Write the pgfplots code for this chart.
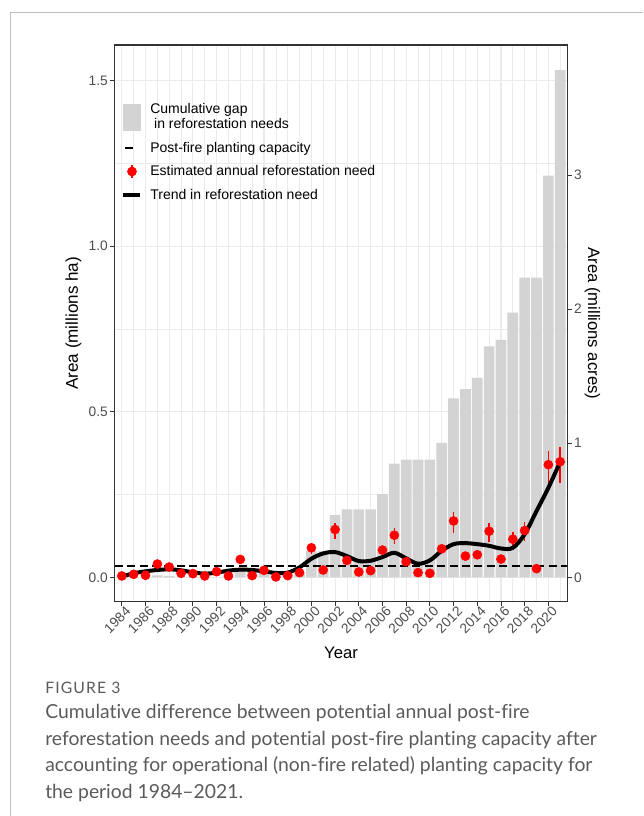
\documentclass[border=0pt]{standalone}
\usepackage{fontspec}
\setmainfont{Liberation Sans}
\newfontfamily\capfont{Lato}[Ligatures={NoCommon,NoContextual}]
\newfontfamily\capfontsp{Lato}[LetterSpace=7]
\usepackage{pgfplots}
\pgfplotsset{compat=1.18}
\definecolor{barcol}{HTML}{D3D3D3}
\definecolor{gridcol}{HTML}{EBEBEB}
\definecolor{axcol}{HTML}{333333}
\definecolor{tickcol}{HTML}{4D4D4D}
\definecolor{capcol}{HTML}{5A5A5A}
\definecolor{framecol}{HTML}{BDBDBD}
\definecolor{ptred}{HTML}{FF0000}
\begin{document}
\begin{tikzpicture}[x=0.75pt,y=0.75pt]
\path[use as bounding box] (0,0) rectangle (643,816);
\draw[framecol, line width=1.1pt] (10.5,0) -- (10.5,803.5) -- (643,803.5);

\begin{axis}[
  at={(86.03pt,160.73pt)}, anchor=south west,
  width=339.45pt, height=417.5pt, scale only axis,
  xmin=1983.4, xmax=2021.6, ymin=-0.0737, ymax=1.607,
  /pgf/number format/assume math mode=true,
  axis line style={axcol, line width=0.8pt},
  xtick={1984,1986,...,2020}, minor xtick={1985,1987,...,2021},
  ytick={0,0.5,1,1.5}, minor ytick={0.25,0.75,1.25},
  yticklabels={0.0,0.5,1.0,1.5},
  grid=both,
  major grid style={gridcol, line width=0.8pt},
  minor grid style={gridcol, line width=0.5pt},
  tick align=outside, major tick length=3.5pt, minor tick length=0pt,
  tick pos=left,
  every tick/.style={axcol, line width=0.7pt},
  xticklabel style={rotate=45, anchor=north east, font=\fontsize{10.3}{12}\selectfont, color=tickcol, /pgf/number format/1000 sep={}, inner sep=1pt, xshift=3pt},
  yticklabel style={font=\fontsize{10.3}{12}\selectfont, color=tickcol, inner sep=1.5pt},
  xlabel={Year},
  xlabel style={font=\fontsize{12.5}{14}\selectfont, at={(axis description cs:0.5,-0.0927)}, anchor=center},
  ylabel={Area (millions ha)},
  ylabel style={font=\fontsize{12.8}{14}\selectfont, at={(axis description cs:-0.091,0.5)}, anchor=center},
  legend cell align=left,
  legend style={at={(rel axis cs:0.014,0.898)}, anchor=north west, draw=none, fill=none, inner sep=0pt,
    font=\fontsize{10.5}{11.25}\selectfont, row sep=6.2pt,
    nodes={inner sep=1pt},
    cells={anchor=west, align=left},
    /tikz/every odd column/.append style={column sep=5pt}},
]
% cumulative gap bars
\addplot[ybar, bar width=0.9, bar shift=0pt, fill=barcol, draw=none, forget plot] coordinates {
(1984,0) (1985,0) (1986,0) (1987,0.006) (1988,0.004) (1989,0) (1990,0) (1991,0)
(1992,0) (1993,0) (1994,0.020) (1995,0.020) (1996,0.020) (1997,0.015) (1998,0.015)
(1999,0.013) (2000,0.080) (2001,0.078) (2002,0.188) (2003,0.205) (2004,0.205)
(2005,0.205) (2006,0.251) (2007,0.343) (2008,0.355) (2009,0.355) (2010,0.355)
(2011,0.406) (2012,0.540) (2013,0.568) (2014,0.602) (2015,0.697) (2016,0.717)
(2017,0.799) (2018,0.905) (2019,0.905) (2020,1.213) (2021,1.531)};
% post-fire planting capacity
\addplot[black, line width=1.7pt, dash pattern=on 6pt off 3.3pt, forget plot] coordinates {(1983.4,0.035) (2021.6,0.035)};
% estimated annual need
\addplot[only marks, mark=*, mark size=3.4pt, color=ptred, mark options={draw=none, fill=ptred}, forget plot,
  error bars/.cd, y dir=both, y explicit, error mark=none, error bar style={ptred, line width=1.2pt}] coordinates {
(1984,0.004) +- (0,0.002)
(1985,0.009) +- (0,0.002)
(1986,0.006) +- (0,0.002)
(1987,0.040) +- (0,0.006)
(1988,0.031) +- (0,0.004)
(1989,0.012) +- (0,0.002)
(1990,0.011) +- (0,0.002)
(1991,0.004) +- (0,0.002)
(1992,0.017) +- (0,0.003)
(1993,0.004) +- (0,0.002)
(1994,0.054) +- (0,0.008)
(1995,0.005) +- (0,0.002)
(1996,0.021) +- (0,0.003)
(1997,0.001) +- (0,0.001)
(1998,0.005) +- (0,0.002)
(1999,0.014) +- (0,0.003)
(2000,0.089) += (0,0.016) -= (0,0.019)
(2001,0.022) +- (0,0.004)
(2002,0.144) += (0,0.019) -= (0,0.029)
(2003,0.051) +- (0,0.006)
(2004,0.016) +- (0,0.003)
(2005,0.020) +- (0,0.003)
(2006,0.082) += (0,0.014) -= (0,0.012)
(2007,0.127) += (0,0.021) -= (0,0.026)
(2008,0.047) +- (0,0.006)
(2009,0.014) +- (0,0.003)
(2010,0.012) +- (0,0.003)
(2011,0.086) +- (0,0.009)
(2012,0.170) += (0,0.028) -= (0,0.035)
(2013,0.064) +- (0,0.006)
(2014,0.068) +- (0,0.006)
(2015,0.139) += (0,0.025) -= (0,0.031)
(2016,0.055) +- (0,0.005)
(2017,0.115) += (0,0.023) -= (0,0.022)
(2018,0.141) += (0,0.027) -= (0,0.032)
(2019,0.026) +- (0,0.004)
(2020,0.340) += (0,0.042) -= (0,0.058)
(2021,0.349) += (0,0.045) -= (0,0.063)};
% trend
\addplot[black, line width=3pt, smooth, tension=0.55, forget plot] coordinates {
(1984,0.002) (1985,0.012) (1986,0.018) (1987,0.022) (1988,0.024) (1989,0.021)
(1990,0.015) (1991,0.011) (1992,0.014) (1993,0.020) (1994,0.023) (1995,0.022)
(1996,0.018) (1997,0.013) (1998,0.014) (1999,0.030) (2000,0.056) (2001,0.072)
(2002,0.076) (2003,0.064) (2004,0.049) (2005,0.050) (2006,0.061) (2007,0.074)
(2008,0.057) (2009,0.041) (2010,0.051) (2011,0.080) (2012,0.100) (2013,0.103)
(2014,0.100) (2015,0.095) (2016,0.087) (2017,0.089) (2018,0.130) (2019,0.200)
(2020,0.270) (2021,0.349)};
% legend
\addlegendimage{legend image code/.code={\fill[barcol] (0pt,-10pt) rectangle (12.75pt,10pt);}}
\addlegendentry{\strut Cumulative gap\\\strut\ in reforestation needs}
\addlegendimage{legend image code/.code={\path[draw=none,fill=none] (0pt,-1pt) rectangle (12.75pt,1pt); \draw[black, solid, line width=2pt] (1.3pt,0pt) -- (7.5pt,0pt);}}
\addlegendentry{\strut Post-fire planting capacity}
\addlegendimage{legend image code/.code={\path[draw=none,fill=none] (0pt,-1pt) rectangle (12.75pt,1pt); \draw[ptred, solid, line width=1.2pt] (6.5pt,-5pt) -- (6.5pt,5pt); \fill[ptred] (6.5pt,0pt) circle (3.4pt);}}
\addlegendentry{\strut Estimated annual reforestation need}
\addlegendimage{legend image code/.code={\draw[black, solid, line width=3pt] (0pt,0pt) -- (12.75pt,0pt);}}
\addlegendentry{\strut Trend in reforestation need}
\end{axis}

\begin{axis}[
  at={(86.03pt,160.73pt)}, anchor=south west,
  width=339.45pt, height=417.5pt, scale only axis,
  xmin=1983.4, xmax=2021.6, ymin=-0.1821, ymax=3.971,
  /pgf/number format/assume math mode=true,
  axis x line=none, axis y line*=right,
  axis line style={axcol, line width=0.8pt},
  ytick={0,1,2,3},
  tick align=outside, major tick length=3.5pt,
  every tick/.style={axcol, line width=0.7pt},
  yticklabel style={font=\fontsize{10.3}{12}\selectfont, color=tickcol, inner sep=1.5pt},
  ylabel={Area (millions acres)},
  ylabel style={font=\fontsize{12.5}{14}\selectfont, at={(axis description cs:1.0557,0.5)}, anchor=center, rotate=180},
]
\addplot[draw=none, forget plot] coordinates {(1984,0) (2021,0)};
\end{axis}

\node[anchor=base west, font=\capfontsp\fontsize{11.8}{12}\selectfont, color=capcol, inner sep=0pt] at (45,122) {FIGURE 3};
\begin{scope}[every node/.style={anchor=base west, font=\capfont\fontsize{14.5}{16}\selectfont, color=capcol, inner sep=0pt}]
\node at (45,97.5) {Cumulative difference between potential annual post-fire};
\node at (45,70.8) {reforestation needs and potential post-fire planting capacity after};
\node at (45,44.1) {accounting for operational (non-fire related) planting capacity for};
\node at (45,17.4) {the period 1984–2021.};
\end{scope}
\end{tikzpicture}
\end{document}
